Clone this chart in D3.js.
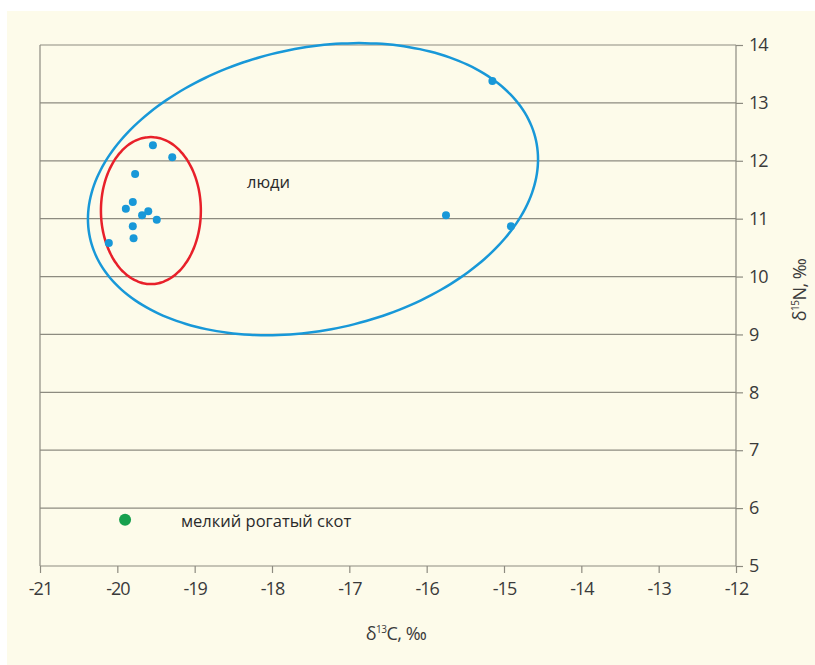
<!DOCTYPE html>
<html>
<head>
  <meta charset="utf-8">
  <title>δ13C / δ15N</title>
  <script src="https://d3js.org/d3.v7.min.js"></script>
  <style>
    body { margin: 0; background: #ffffff; }
    .tick text { font-family: "Open Sans", sans-serif; font-size: 18px; letter-spacing: -1px; fill: #3a3a3a; }
    .tick line { stroke: #8d8b80; stroke-width: 1.2; }
    .lbl { font-family: "Open Sans", "Noto Sans", sans-serif; font-size: 16.5px; fill: #2a2a2a; }
    .axt { font-family: "Open Sans", sans-serif; font-size: 18px; letter-spacing: -0.5px; fill: #3a3a3a; }
  </style>
</head>
<body>
  <script>
    // люди: d13C, d15N
    var humansC = [-19.54, -19.29, -19.77, -19.80, -19.89, -19.68, -19.60, -19.49, -19.80, -19.79, -20.11, -15.75, -15.15, -14.91];
    var humansN = [12.27, 12.06, 11.77, 11.29, 11.17, 11.06, 11.13, 10.98, 10.87, 10.66, 10.58, 11.06, 13.38, 10.87];
    var sheepC = [-19.9];
    var sheepN = [5.8];

    var xTicks = [-21, -20, -19, -18, -17, -16, -15, -14, -13, -12];
    var yTicks = [5, 6, 7, 8, 9, 10, 11, 12, 13, 14];

    // ellipses in data units: centre + two semi-axis vectors
    var blueEllipse = { c: [-17.47, 11.51], u: [2.884, 0.840], v: [0.388, -2.379] };
    var redEllipse = { c: [-19.566, 11.14], u: [0.646, 0], v: [0, 1.27] };

    var W = 815, H = 665;
    var mLeft = 40, mRight = 736, mTop = 45, mBottom = 566;

    var svg = d3.select("body").append("svg")
      .attr("width", W)
      .attr("height", H);

    svg.append("rect")
      .attr("x", 7).attr("y", 11)
      .attr("width", W - 7).attr("height", H - 11)
      .attr("fill", "#fdfbea");

    var x = d3.scaleLinear().domain([-21, -12]).range([mLeft, mRight]);
    var y = d3.scaleLinear().domain([5, 14]).range([mBottom, mTop]);

    // gridlines
    svg.append("g").selectAll("line")
      .data(yTicks)
      .enter().append("line")
      .attr("x1", mLeft).attr("x2", mRight)
      .attr("y1", function(d) { return y(d); })
      .attr("y2", function(d) { return y(d); })
      .attr("stroke", "#8d8b80")
      .attr("stroke-width", 1.2);

    svg.append("line")
      .attr("x1", mLeft).attr("x2", mLeft).attr("y1", mTop).attr("y2", mBottom)
      .attr("stroke", "#8d8b80").attr("stroke-width", 1.2);
    svg.append("line")
      .attr("x1", mRight).attr("x2", mRight).attr("y1", mTop).attr("y2", mBottom)
      .attr("stroke", "#8d8b80").attr("stroke-width", 1.2);

    var yAxis = svg.append("g")
      .attr("transform", "translate(" + mRight + ",0)")
      .call(d3.axisRight(y).tickValues(yTicks).tickSize(7).tickPadding(6).tickFormat(d3.format("d")));
    yAxis.select(".domain").remove();

    var xAxis = svg.append("g")
      .attr("transform", "translate(0," + mBottom + ")")
      .call(d3.axisBottom(x).tickValues(xTicks).tickSize(7).tickPadding(9)
        .tickFormat(function(d) { return "-" + Math.abs(d); }));
    xAxis.select(".domain").remove();

    function ellipsePath(e) {
      var pts = d3.range(0, 360, 3).map(function(a) {
        var t = a * Math.PI / 180;
        return [
          x(e.c[0] + e.u[0] * Math.cos(t) + e.v[0] * Math.sin(t)),
          y(e.c[1] + e.u[1] * Math.cos(t) + e.v[1] * Math.sin(t))
        ];
      });
      return d3.line().curve(d3.curveCardinalClosed)(pts);
    }

    svg.append("path")
      .attr("d", ellipsePath(blueEllipse))
      .attr("fill", "none")
      .attr("stroke", "#1898d8")
      .attr("stroke-width", 2.5);

    svg.append("path")
      .attr("d", ellipsePath(redEllipse))
      .attr("fill", "none")
      .attr("stroke", "#e8202a")
      .attr("stroke-width", 2.5);

    svg.append("g").selectAll("circle")
      .data(d3.range(humansC.length))
      .enter().append("circle")
      .attr("cx", function(i) { return x(humansC[i]); })
      .attr("cy", function(i) { return y(humansN[i]); })
      .attr("r", 4)
      .attr("fill", "#1898d8");

    svg.append("g").selectAll("circle")
      .data(d3.range(sheepC.length))
      .enter().append("circle")
      .attr("cx", function(i) { return x(sheepC[i]); })
      .attr("cy", function(i) { return y(sheepN[i]); })
      .attr("r", 6)
      .attr("fill", "#17a04e");

    svg.append("text").attr("class", "lbl")
      .attr("x", 247).attr("y", 188)
      .text("люди");

    svg.append("text").attr("class", "lbl")
      .attr("x", 181).attr("y", 527)
      .text("мелкий рогатый скот");

    var xt = svg.append("text").attr("class", "axt")
      .attr("x", 396).attr("y", 640)
      .attr("text-anchor", "middle");
    xt.append("tspan").text("δ");
    xt.append("tspan").attr("dy", -7).style("font-size", "10px").text("13");
    xt.append("tspan").attr("dy", 7).text("C, ‰");

    var yt = svg.append("text").attr("class", "axt")
      .attr("transform", "translate(806,290) rotate(-90)")
      .attr("text-anchor", "middle");
    yt.append("tspan").text("δ");
    yt.append("tspan").attr("dy", -7).style("font-size", "10px").text("15");
    yt.append("tspan").attr("dy", 7).text("N, ‰");
  </script>
</body>
</html>
